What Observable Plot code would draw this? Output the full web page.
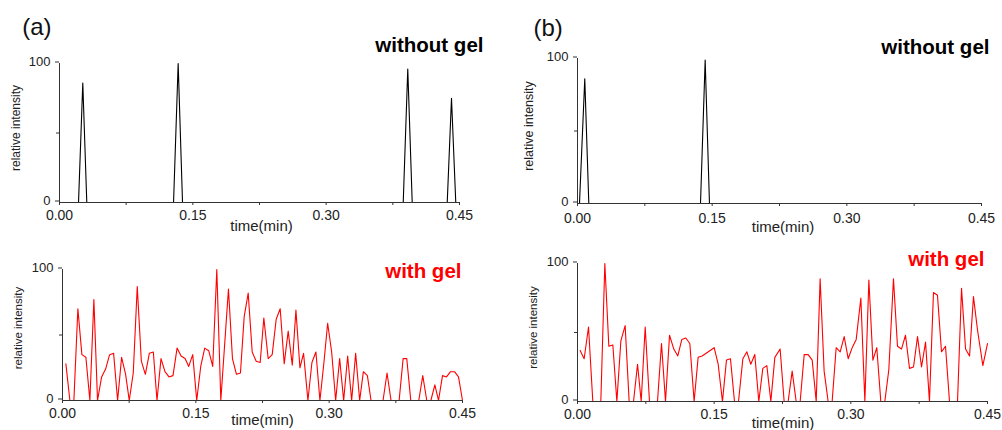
<!DOCTYPE html>
<html><head><meta charset="utf-8">
<script src="https://cdn.jsdelivr.net/npm/d3@7"></script>
<script src="https://cdn.jsdelivr.net/npm/@observablehq/plot@0.6"></script>
<style>
html,body{margin:0;padding:0;background:#fff;}
#fig{position:relative;width:1002px;height:430px;overflow:hidden;background:#fff;}
.panel{position:absolute;}
</style></head><body><div id="fig"></div>
<script>
// ---- data ----
const xTicks = [0, 0.15, 0.30, 0.45];
const xMinorTicks = [0.075, 0.225, 0.375];
const yTicks = [0, 100];
const yMinorTicks = [50];
const panelTags = ["(a)", "(b)"];
const titleWithout = "without gel";
const titleWith = "with gel";
const xLabel = "time(min)";
const yLabel = "relative intensity";

// (a) without gel
const timeA1 = [0, 0.0214, 0.0262, 0.0307, 0.1283, 0.1335, 0.1384, 0.3867, 0.3918, 0.3968, 0.4362, 0.4410, 0.4458, 0.45];
const intA1  = [0, 0, 86, 0, 0, 100, 0, 0, 96, 0, 0, 75, 0, 0];
// (b) without gel
const timeB1 = [0, 0.0022, 0.0081, 0.0126, 0.1370, 0.1422, 0.1470, 0.45];
const intB1  = [0, 0, 86, 0, 0, 99, 0, 0];
// (a) with gel
const timeA2 = [0.0038,0.0083,0.0128,0.0173,0.0218,0.0263,0.0308,0.0353,0.0394,0.0440,0.0485,0.0530,0.0575,0.0620,0.0665,0.0710,0.0751,0.0796,0.0841,0.0887,0.0932,0.0977,0.1022,0.1063,0.1108,0.1153,0.1198,0.1243,0.1289,0.1334,0.1379,0.1420,0.1465,0.1510,0.1555,0.1600,0.1645,0.1690,0.1736,0.1781,0.1867,0.1912,0.1957,0.2002,0.2044,0.2089,0.2134,0.2179,0.2224,0.2265,0.2314,0.2359,0.2404,0.2449,0.2494,0.2539,0.2585,0.2626,0.2671,0.2712,0.2761,0.2806,0.2851,0.2896,0.2941,0.2983,0.3028,0.3073,0.3118,0.3163,0.3208,0.3253,0.3298,0.3343,0.3385,0.3430,0.3471,0.3606,0.3651,0.3696,0.3787,0.3832,0.3873,0.3918,0.4008,0.4053,0.4098,0.4144,0.4189,0.4230,0.4275,0.4320,0.4365,0.4410,0.4455,0.4500];
const intA2  = [28,0,0,70,35,33,0,77,0,18,24,35,36,0,33,20,0,21,87,30,20,36,37,0,32,22,18,19,40,34,32,26,35,0,26,40,38,26,100,0,85,32,20,21,64,82,37,30,29,63,32,35,62,70,28,53,27,69,25,36,0,29,37,0,29,59,37,0,32,0,34,0,36,0,22,19,0,0,21,0,0,32,32,0,0,19,0,0,12,0,19,18,22,22,18,0];
// (b) with gel
const timeB2 = [0.0029,0.0073,0.0121,0.0168,0.0256,0.0300,0.0344,0.0388,0.0432,0.0476,0.0523,0.0567,0.0615,0.0659,0.0699,0.0743,0.0790,0.0878,0.0922,0.0966,0.1010,0.1057,0.1101,0.1145,0.1189,0.1233,0.1280,0.1324,0.1368,0.1412,0.1456,0.1500,0.1544,0.1591,0.1635,0.1679,0.1723,0.1767,0.1815,0.1859,0.1902,0.1946,0.1990,0.2034,0.2078,0.2122,0.2166,0.2224,0.2268,0.2312,0.2356,0.2400,0.2444,0.2488,0.2532,0.2576,0.2620,0.2663,0.2707,0.2751,0.2795,0.2839,0.2883,0.2927,0.2971,0.3015,0.3059,0.3110,0.3154,0.3198,0.3242,0.3285,0.3329,0.3373,0.3417,0.3468,0.3512,0.3556,0.3600,0.3644,0.3688,0.3732,0.3776,0.3820,0.3863,0.3907,0.3951,0.3995,0.4039,0.4083,0.4171,0.4215,0.4259,0.4303,0.4346,0.4390,0.4449,0.4500];
const intB2  = [37,31,54,0,0,100,40,41,0,44,55,0,0,27,0,54,0,0,42,0,48,38,33,45,46,42,0,32,33,35,37,39,27,0,30,31,0,0,31,36,27,34,0,24,26,0,32,38,0,0,22,0,0,34,34,30,0,89,22,0,0,39,36,47,31,39,45,75,0,88,30,39,0,0,23,89,40,38,48,24,25,47,25,43,0,79,77,36,40,0,0,82,38,33,76,52,26,42];

// ---- drawing ----
const FONT = "'Liberation Sans', Arial, Helvetica, sans-serif";
const fig = document.getElementById("fig");

function panel(o) {
  const data = o.time.map((t, i) => ({t, v: o.intensity[i]}));
  const marks = [
    Plot.line(data, {x: "t", y: "v", stroke: o.color, strokeWidth: 1.1}),
    Plot.ruleY([0], {stroke: "#333", strokeWidth: 1}),
    Plot.ruleX([0], {stroke: "#333", strokeWidth: 1}),
    Plot.axisX({ticks: xTicks, tickSize: 3, tickPadding: o.xPad, tickFormat: d => d.toFixed(2), fontSize: 14, fill: "#222", stroke: "#333", label: null}),
    Plot.axisX({ticks: xMinorTicks, tickSize: 3, tickFormat: () => "", stroke: "#333", label: null}),
    Plot.axisY({ticks: yTicks, tickSize: 4, tickPadding: 5, tickFormat: d => String(d), fontSize: 13, dy: -1.5, fill: "#222", stroke: "#333", label: null}),
    Plot.axisY({ticks: yMinorTicks, tickSize: 3, tickFormat: () => "", stroke: "#333", label: null}),
    Plot.text([xLabel], {text: d => d, frameAnchor: "bottom", lineAnchor: "bottom", dx: o.xl[0], dy: o.xl[1], fontSize: 15, fill: "#222"}),
    Plot.text([yLabel], {text: d => d, frameAnchor: "left", rotate: -90, lineAnchor: "middle", textAnchor: "middle", dx: o.yl[0], dy: o.yl[1], fontSize: o.ylSize, fill: "#222"}),
    Plot.text([o.title], {text: d => d, frameAnchor: "top-right", textAnchor: "end", lineAnchor: "bottom", dx: o.tt[0], dy: o.tt[1], fontSize: 20.5, fontWeight: "bold", fill: o.titleColor})
  ];
  if (o.tag) marks.push(Plot.text([o.tag], {text: d => d, frameAnchor: "top-left", textAnchor: "start", lineAnchor: "bottom", dx: o.tg[0], dy: o.tg[1], fontSize: 24, fill: "#111"}));
  const chart = Plot.plot({
    width: o.w, height: o.h,
    marginLeft: o.m[0], marginRight: o.m[1], marginTop: o.m[2], marginBottom: o.m[3],
    x: {domain: [0, 0.45], label: null},
    y: {domain: [0, 100], label: null},
    style: {fontFamily: FONT, fontSize: "14px", background: "transparent", overflow: "visible", color: "#222"},
    marks
  });
  const div = document.createElement("div");
  div.className = "panel";
  div.style.left = o.left + "px";
  div.style.top = o.top + "px";
  div.appendChild(chart);
  fig.appendChild(div);
}

panel({time: timeA1, intensity: intA1, color: "#000", left: 0, top: 0, w: 500, h: 235, m: [59, 41, 63, 33], xPad: 4.5,
  xl: [2, 28.5], yl: [-43.5, -5], ylSize: 12, title: titleWithout, titleColor: "#000", tt: [24, -12], tag: panelTags[0], tg: [-37.3, -29]});
panel({time: timeB1, intensity: intB1, color: "#000", left: 500, top: 0, w: 502, h: 235, m: [77, 21, 58, 32], xPad: 7,
  xl: [3.5, 28], yl: [-49, -5], ylSize: 12.5, title: titleWithout, titleColor: "#000", tt: [8, -5], tag: panelTags[1], tg: [-44, -23]});
panel({time: timeA2, intensity: intA2, color: "#ff0000", left: 0, top: 235, w: 500, h: 195, m: [62, 38, 34, 30], xPad: 5,
  xl: [0, 24], yl: [-44.5, -7], ylSize: 11.5, title: titleWith, titleColor: "#ff0000", tt: [-1, 8]});
panel({time: timeB2, intensity: intB2, color: "#ff0000", left: 500, top: 235, w: 502, h: 195, m: [77, 15, 28, 29], xPad: 5,
  xl: [0.5, 26], yl: [-44.5, -5], ylSize: 11.5, title: titleWith, titleColor: "#ff0000", tt: [-3, 2]});
</script></body></html>
